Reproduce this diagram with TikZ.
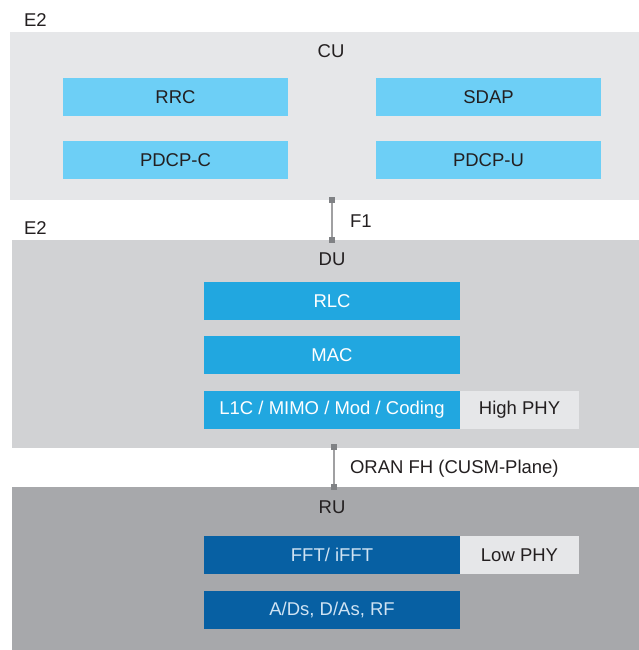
\documentclass[tikz,border=0pt]{standalone}
\usepackage{fontspec}
\setmainfont{Liberation Sans}
\definecolor{cupanel}{HTML}{E6E7E9}
\definecolor{dupanel}{HTML}{D1D2D4}
\definecolor{rupanel}{HTML}{A7A8AB}
\definecolor{lightblue}{HTML}{6DCFF6}
\definecolor{midblue}{HTML}{21A7E0}
\definecolor{darkblue}{HTML}{0760A3}
\definecolor{phybox}{HTML}{E6E7E9}
\definecolor{ink}{HTML}{231F20}
\definecolor{paleink}{HTML}{CFE3F3}
\definecolor{linkgray}{HTML}{A0A0A2}
\definecolor{tipgray}{HTML}{808285}
\tikzset{
  x=1pt, y=-1pt,
  every node/.style={font=\fontsize{18.5}{21}\selectfont, inner sep=0pt, outer sep=0pt},
  panel/.style={draw=none, anchor=north west},
  layer/.style={draw=none, minimum height=38pt, anchor=north west},
  cubox/.style={layer, fill=lightblue, text=ink, minimum width=225pt},
  dubox/.style={layer, fill=midblue, text=white, minimum width=256pt},
  rubox/.style={layer, fill=darkblue, text=paleink, minimum width=256pt},
  physide/.style={layer, fill=phybox, text=ink, minimum width=119pt},
  lbl/.style={text=ink},
  link/.style={draw=linkgray, line width=1.6pt},
  tip/.style={fill=tipgray, minimum size=5.5pt, inner sep=0pt}
}
\begin{document}
\begin{tikzpicture}
\useasboundingbox (0,0) rectangle (639,650);

% panels
\node[panel, fill=cupanel, minimum width=629pt, minimum height=168pt] (cu) at (10,32) {};
\node[panel, fill=dupanel, minimum width=627pt, minimum height=208pt] (du) at (12,240) {};
\node[panel, fill=rupanel, minimum width=627pt, minimum height=163pt] (ru) at (12,487) {};

\node[lbl, anchor=west] (e2a) at (24,20) {E2};
\node[lbl, anchor=west] (e2b) at (24,228) {E2};

% CU
\node[lbl] (cut) at (331,51) {CU};
\node[cubox] (rrc) at (63,78) {RRC};
\node[cubox] (sdap) at (376,78) {SDAP};
\node[cubox] (pdcpc) at (63,141) {PDCP-C};
\node[cubox] (pdcpu) at (376,141) {PDCP-U};

% DU
\node[lbl] (dut) at (332,259) {DU};
\node[dubox] (rlc) at (204,282) {RLC};
\node[dubox] (mac) at (204,336) {MAC};
\node[dubox] (l1c) at (204,391) {L1C / MIMO / Mod / Coding};
\node[physide, anchor=west] (hphy) at (l1c.east) {High PHY};

% RU
\node[lbl] (rut) at (332,507) {RU};
\node[rubox] (fft) at (204,536) {FFT/ iFFT};
\node[physide, anchor=west] (lphy) at (fft.east) {Low PHY};
\node[rubox] (adc) at (204,591) {A/Ds, D/As, RF};

% interfaces
\coordinate (f1a) at (332,200);
\coordinate (f1b) at (332,240);
\draw[link] (f1a) -- (f1b);
\node[tip] (f1at) at (f1a) {};
\node[tip] (f1bt) at (f1b) {};
\node[lbl, anchor=west] (f1) at (350,221) {F1};

\coordinate (fha) at (334,447);
\coordinate (fhb) at (334,487);
\draw[link] (fha) -- (fhb);
\node[tip] (fhat) at (fha) {};
\node[tip] (fhbt) at (fhb) {};
\node[lbl, anchor=west] (fh) at (350,469) {ORAN FH (CUSM-Plane)};
\end{tikzpicture}
\end{document}
